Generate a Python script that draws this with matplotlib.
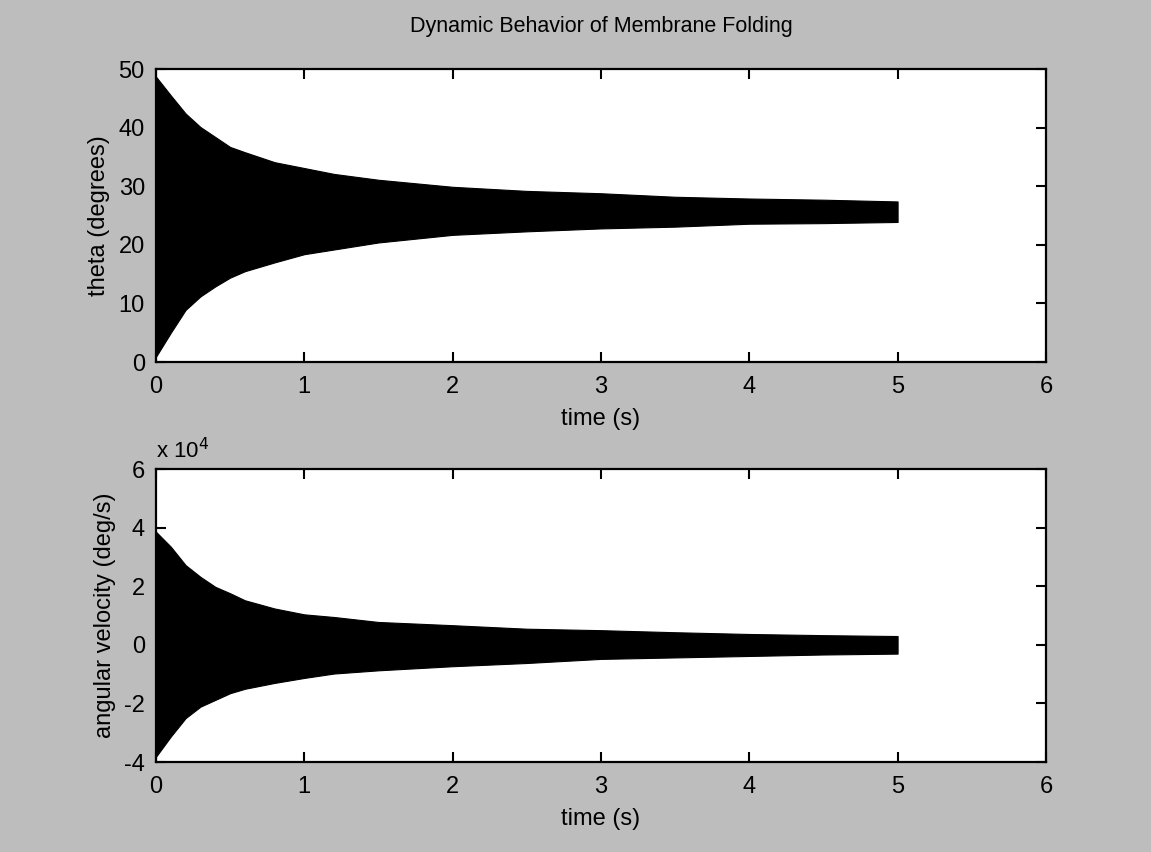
import matplotlib
matplotlib.use("Agg")
import matplotlib.pyplot as plt
from matplotlib import font_manager

# ---- data (envelopes of the dense oscillation) ----
t_theta = [0.0, 0.1, 0.2, 0.3, 0.4, 0.5, 0.6, 0.8, 1.0, 1.2, 1.5, 2.0, 2.5, 3.0, 3.5, 4.0, 4.5, 5.0]
theta_upper = [48.7, 45.5, 42.4, 40.1, 38.4, 36.7, 35.8, 34.1, 33.1, 32.1, 31.1, 29.9, 29.2, 28.8, 28.2, 27.9, 27.7, 27.4]
theta_lower = [0.9, 5.0, 8.9, 11.2, 12.9, 14.4, 15.5, 17.0, 18.4, 19.2, 20.4, 21.7, 22.3, 22.8, 23.1, 23.6, 23.7, 23.9]

t_omega = [0.0, 0.1, 0.2, 0.3, 0.4, 0.5, 0.6, 0.8, 1.0, 1.2, 1.5, 2.0, 2.5, 3.0, 3.5, 4.0, 4.5, 5.0]
omega_upper = [38600, 33500, 27200, 23200, 19800, 17600, 15200, 12400, 10400, 9500, 7800, 6700, 5500, 5000, 4300, 3700, 3300, 3000]
omega_lower = [-38200, -31300, -25000, -21100, -18800, -16500, -15000, -13000, -11300, -9800, -8700, -7300, -6200, -4800, -4300, -3800, -3300, -3000]

x_ticks = [0, 1, 2, 3, 4, 5, 6]
theta_ticks = [0, 10, 20, 30, 40, 50]
omega_ticks = [-40000, -20000, 0, 20000, 40000, 60000]
omega_tick_labels = ["-4", "-2", "0", "2", "4", "6"]

# ---- style ----
names = {f.name for f in font_manager.fontManager.ttflist}
fam = ["Liberation Sans Narrow", "Liberation Sans", "DejaVu Sans"]
plt.rcParams["font.family"] = [f for f in fam if f in names] or ["DejaVu Sans"]

bg = "#bdbdbd"
fig = plt.figure(figsize=(11.51, 8.52), dpi=100, facecolor=bg)

ax1 = fig.add_axes([0.1355, 0.5751, 0.7732, 0.3439])
ax2 = fig.add_axes([0.1355, 0.1056, 0.7732, 0.3439])

for ax in (ax1, ax2):
    ax.set_facecolor("white")
    for sp in ax.spines.values():
        sp.set_linewidth(1.6)
        sp.set_color("black")
    ax.tick_params(direction="in", length=7, width=1.5, top=True, right=True,
                   labelsize=17, pad=8, colors="black")
    ax.tick_params(axis="x", pad=10)
    ax.set_xlim(0, 6)
    ax.set_xticks(x_ticks)

ax1.fill_between(t_theta, theta_lower, theta_upper, color="black", linewidth=0.8,
                 edgecolor="black")
ax1.set_ylim(0, 50)
ax1.set_yticks(theta_ticks)
ax1.set_xlabel("time (s)", fontsize=17, labelpad=7)
ax1.set_ylabel("theta (degrees)", fontsize=17, labelpad=6)
ax1.set_title("Dynamic Behavior of Membrane Folding", fontsize=15.5, pad=27)

ax2.fill_between(t_omega, omega_lower, omega_upper, color="black", linewidth=0.8,
                 edgecolor="black")
ax2.set_ylim(-40000, 60000)
ax2.set_yticks(omega_ticks)
ax2.set_yticklabels(omega_tick_labels)
ax2.set_xlabel("time (s)", fontsize=17, labelpad=7)
ax2.set_ylabel("angular velocity (deg/s)", fontsize=17, labelpad=6)
ax2.text(0.0, 1.02, r"x 10$^{4}$", transform=ax2.transAxes, fontsize=16,
         ha="left", va="bottom")

fig.savefig("out.png", dpi=100, facecolor=bg)
